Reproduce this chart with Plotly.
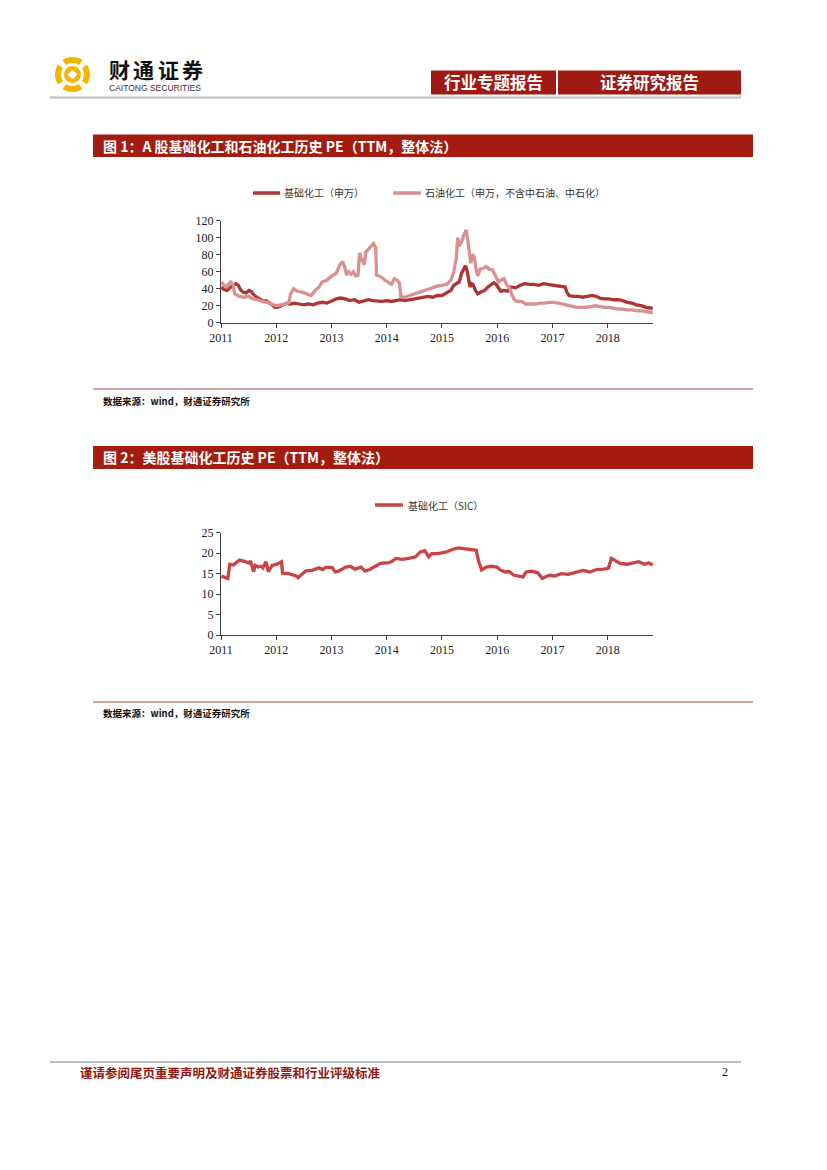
import plotly.graph_objects as go

W, H = 827, 1170

def X(px):
    return px / W

def Y(py):
    return 1 - py / H

# ---------------- data ----------------
year_ticks = ["2011-01-01", "2012-01-01", "2013-01-01", "2014-01-01", "2015-01-01",
              "2016-01-01", "2017-01-01", "2018-01-01"]
year_labels = ["2011", "2012", "2013", "2014", "2015", "2016", "2017", "2018"]

basic_name = "基础化工（申万）"
basic_dates = [
    "2011-01-04", "2011-01-20", "2011-02-10", "2011-03-01", "2011-03-20", "2011-04-10",
    "2011-04-25", "2011-05-10", "2011-05-25", "2011-06-15", "2011-07-05", "2011-07-20",
    "2011-08-05", "2011-08-25", "2011-09-15", "2011-10-10", "2011-10-25", "2011-11-15",
    "2011-12-05", "2011-12-25", "2012-01-10", "2012-02-01", "2012-02-20", "2012-03-10",
    "2012-04-01", "2012-05-01", "2012-06-01", "2012-07-01", "2012-08-01", "2012-09-01",
    "2012-10-01", "2012-11-01", "2012-12-01", "2013-01-01", "2013-02-01", "2013-03-01",
    "2013-04-01", "2013-05-01", "2013-06-01", "2013-07-01", "2013-08-01", "2013-09-01",
    "2013-10-01", "2013-11-01", "2013-12-01", "2014-01-01", "2014-02-01", "2014-03-01",
    "2014-04-01", "2014-05-01", "2014-06-01", "2014-07-01", "2014-08-01", "2014-09-01",
    "2014-10-01", "2014-11-01", "2014-12-01", "2015-01-01", "2015-02-01", "2015-03-01",
    "2015-03-20", "2015-04-10", "2015-04-25", "2015-05-10", "2015-06-05", "2015-06-15",
    "2015-06-25", "2015-07-05", "2015-07-15", "2015-07-25", "2015-08-10", "2015-08-25",
    "2015-09-15", "2015-10-10", "2015-11-01", "2015-11-20", "2015-12-10", "2015-12-25",
    "2016-01-10", "2016-01-25", "2016-02-15", "2016-03-10", "2016-04-01", "2016-05-01",
    "2016-06-01", "2016-07-01", "2016-08-01", "2016-09-01", "2016-10-01", "2016-11-01",
    "2016-12-01", "2017-01-01", "2017-02-01", "2017-03-01", "2017-03-25", "2017-04-05",
    "2017-04-20", "2017-05-20", "2017-06-20", "2017-07-20", "2017-08-20", "2017-09-20",
    "2017-10-15", "2017-11-10", "2017-12-10", "2018-01-10", "2018-02-10", "2018-03-10",
    "2018-04-10", "2018-05-10", "2018-06-10", "2018-07-10", "2018-08-10", "2018-09-10",
    "2018-10-25",
]
basic_pe = [
    42, 39, 38, 41, 44, 46,
    44, 39, 36, 35, 38, 37,
    33, 30, 28, 25, 26, 24,
    21, 18, 18, 20, 22, 23,
    22, 23, 22, 21, 22, 21,
    23, 24, 23, 26, 28, 29,
    28, 26, 27, 24, 26, 27,
    26, 25, 25, 26, 25, 26,
    27, 26, 27, 28, 29, 30,
    31, 30, 32, 32, 35, 38,
    44, 46, 48, 58, 67, 62,
    50, 42, 46, 45, 38, 34,
    36, 38, 42, 44, 47, 45,
    40, 37, 38, 37, 42, 41,
    44, 46, 45, 45, 44, 46,
    45, 44, 43, 43, 42, 36,
    32, 31, 31, 30, 31, 32,
    31, 29, 28, 28, 27, 27,
    26, 24, 23, 21, 20, 18,
    17,
]

petro_name = "石油化工（申万，不含中石油、中石化）"
petro_dates = [
    "2011-01-04", "2011-01-20", "2011-02-05", "2011-02-20", "2011-03-05", "2011-03-20",
    "2011-04-01", "2011-05-01", "2011-06-01", "2011-07-01", "2011-08-01", "2011-09-01",
    "2011-10-01", "2011-11-01", "2011-12-01", "2012-01-01", "2012-02-01", "2012-03-01",
    "2012-03-25", "2012-04-05", "2012-04-25", "2012-05-20", "2012-06-20", "2012-07-20",
    "2012-08-20", "2012-09-15", "2012-10-10", "2012-11-01", "2012-12-01", "2013-01-01",
    "2013-02-01", "2013-02-25", "2013-03-15", "2013-03-30", "2013-04-10", "2013-04-25",
    "2013-05-10", "2013-05-25", "2013-06-10", "2013-06-25", "2013-07-05", "2013-07-15",
    "2013-07-25", "2013-08-05", "2013-08-15", "2013-09-01", "2013-09-20", "2013-10-05",
    "2013-10-20", "2013-10-25", "2013-11-10", "2013-12-01", "2013-12-20", "2014-01-10",
    "2014-02-01", "2014-02-20", "2014-03-10", "2014-03-25", "2014-04-05", "2014-05-01",
    "2014-06-01", "2014-07-01", "2014-08-01", "2014-09-01", "2014-10-01", "2014-11-01",
    "2014-12-01", "2015-01-01", "2015-02-01", "2015-03-01", "2015-03-20", "2015-04-05",
    "2015-04-15", "2015-04-25", "2015-05-10", "2015-05-25", "2015-06-10", "2015-06-20",
    "2015-06-30", "2015-07-10", "2015-07-20", "2015-08-01", "2015-08-15", "2015-08-25",
    "2015-09-10", "2015-10-01", "2015-10-20", "2015-11-10", "2015-12-01", "2015-12-20",
    "2016-01-10", "2016-01-25", "2016-02-15", "2016-03-05", "2016-03-20", "2016-04-05",
    "2016-04-20", "2016-05-10", "2016-06-10", "2016-07-10", "2016-08-10", "2016-09-10",
    "2016-10-10", "2016-11-10", "2016-12-10", "2017-01-10", "2017-02-10", "2017-03-10",
    "2017-04-10", "2017-05-10", "2017-06-10", "2017-07-10", "2017-08-10", "2017-09-10",
    "2017-10-10", "2017-11-10", "2017-12-10", "2018-01-10", "2018-02-10", "2018-03-10",
    "2018-04-10", "2018-05-10", "2018-06-10", "2018-07-10", "2018-08-10", "2018-09-10",
    "2018-10-25",
]
petro_pe = [
    48, 44, 42, 46, 48, 46,
    34, 31, 30, 31, 28, 27,
    25, 24, 22, 20, 21, 22,
    24, 34, 40, 37, 36, 34,
    32, 38, 42, 48, 50, 55,
    58, 68, 72, 65, 56, 60,
    57, 60, 55, 56, 82, 76,
    73, 68, 83, 86, 90, 93,
    88, 56, 55, 53, 50, 47,
    45, 52, 50, 47, 30, 30,
    32, 33, 35, 37, 39, 41,
    43, 44, 45, 50, 60, 75,
    100, 90, 95, 103, 109, 98,
    80, 70, 80, 78, 62, 55,
    63, 64, 66, 63, 62, 55,
    48, 50, 52, 44, 42, 34,
    28, 25, 25, 22, 22, 22,
    23, 23, 24, 24, 23, 22,
    20, 19, 18, 18, 18, 19,
    20, 19, 18, 18, 17, 16,
    16, 15, 15, 14, 14, 13,
    12,
]

sic_name = "基础化工（SIC）"
sic_dates = [
    "2011-01-04", "2011-01-25", "2011-02-15", "2011-02-28", "2011-03-25", "2011-04-15",
    "2011-05-05", "2011-06-05", "2011-07-05", "2011-07-15", "2011-08-05", "2011-08-15",
    "2011-09-05", "2011-09-25", "2011-10-05", "2011-10-25", "2011-11-10", "2011-12-05",
    "2012-01-05", "2012-02-05", "2012-02-12", "2012-03-25", "2012-04-15", "2012-05-15",
    "2012-05-25", "2012-06-15", "2012-07-15", "2012-08-25", "2012-10-10", "2012-11-05",
    "2012-11-25", "2013-01-05", "2013-01-25", "2013-02-15", "2013-04-05", "2013-05-05",
    "2013-06-05", "2013-07-15", "2013-08-10", "2013-09-10", "2013-10-15", "2013-11-20",
    "2014-01-01", "2014-02-01", "2014-03-01", "2014-04-15", "2014-05-25", "2014-07-10",
    "2014-08-10", "2014-09-10", "2014-10-05", "2014-10-25", "2014-12-05", "2015-01-05",
    "2015-02-01", "2015-03-10", "2015-04-20", "2015-05-25", "2015-07-05", "2015-07-25",
    "2015-08-15", "2015-09-01", "2015-09-20", "2015-10-20", "2015-11-20", "2016-01-01",
    "2016-01-25", "2016-02-25", "2016-03-20", "2016-04-20", "2016-05-20", "2016-06-20",
    "2016-07-10", "2016-08-15", "2016-09-25", "2016-10-25", "2016-11-20", "2016-12-15",
    "2017-01-15", "2017-03-01", "2017-04-15", "2017-06-05", "2017-07-20", "2017-09-05",
    "2017-10-20", "2017-12-05", "2018-01-05", "2018-01-25", "2018-02-20", "2018-03-25",
    "2018-05-10", "2018-06-20", "2018-07-25", "2018-09-01", "2018-10-01", "2018-10-25",
]
sic_pe = [
    14.4, 14.1, 13.8, 17.3, 17.1, 17.8,
    18.3, 18.0, 17.6, 18.1, 15.5, 17.0,
    16.6, 16.8, 16.4, 17.9, 15.5, 17.0,
    17.3, 17.9, 15.1, 15.0, 14.8, 14.4,
    14.0, 14.6, 15.7, 15.8, 16.4, 16.0,
    16.6, 16.5, 15.4, 15.6, 16.6, 16.8,
    16.1, 16.6, 15.6, 16.0, 16.8, 17.5,
    17.6, 17.9, 18.7, 18.5, 18.7, 19.1,
    20.3, 20.6, 19.1, 19.9, 19.9, 20.1,
    20.3, 20.9, 21.3, 21.1, 20.9, 21.0,
    20.7, 17.9, 15.9, 16.6, 16.8, 16.6,
    15.8, 15.4, 15.5, 14.6, 14.4, 14.2,
    15.4, 15.6, 15.2, 13.8, 14.3, 14.6,
    14.4, 15.0, 14.8, 15.4, 15.8, 15.4,
    16.0, 16.1, 16.3, 18.7, 18.1, 17.5,
    17.3, 17.6, 17.9, 17.3, 17.6, 17.1,
]

x_range = ["2011-01-01", "2018-10-27"]

# ---------------- colours / fonts ----------------
C_DARK = "#AE3434"
C_LIGHT = "#D99090"
C_SIC = "#C94444"
C_BAR = "#A31C0F"
C_HDR = "#9E1A12"
GOLD = "#F2B600"
CJK = "Noto Sans CJK SC"
SERIF = "Liberation Serif"

fig = go.Figure()

fig.add_trace(go.Scatter(x=basic_dates, y=basic_pe, mode="lines", name=basic_name,
                         line=dict(color=C_DARK, width=3.3), xaxis="x", yaxis="y"))
fig.add_trace(go.Scatter(x=petro_dates, y=petro_pe, mode="lines", name=petro_name,
                         line=dict(color=C_LIGHT, width=3.3), xaxis="x", yaxis="y"))
fig.add_trace(go.Scatter(x=sic_dates, y=sic_pe, mode="lines", name=sic_name,
                         line=dict(color=C_SIC, width=3.3), xaxis="x2", yaxis="y2"))

axis_common = dict(showgrid=False, zeroline=False, showline=True, linecolor="#404040",
                   linewidth=1, ticks="outside", ticklen=4, tickcolor="#404040",
                   automargin=False,
                   tickfont=dict(family=SERIF, size=12, color="#222222"))

fig.update_layout(
    width=W, height=H,
    margin=dict(l=0, r=0, t=0, b=0, pad=0, autoexpand=False),
    paper_bgcolor="white", plot_bgcolor="white",
    showlegend=False,
    xaxis=dict(domain=[X(221), X(653)], anchor="y", type="date", range=x_range,
               tickvals=year_ticks, ticktext=year_labels, **axis_common),
    yaxis=dict(domain=[Y(322.7), Y(220.7)], anchor="x", range=[0, 120], dtick=20,
               **axis_common),
    xaxis2=dict(domain=[X(221), X(653)], anchor="y2", type="date", range=x_range,
                tickvals=year_ticks, ticktext=year_labels, **axis_common),
    yaxis2=dict(domain=[Y(635), Y(532.7)], anchor="x2", range=[0, 25], dtick=5,
                **axis_common),
)

shapes = []
annos = []

def rect(x0, y0, x1, y1, color):
    shapes.append(dict(type="rect", xref="paper", yref="paper", x0=X(x0), x1=X(x1),
                       y0=Y(y1), y1=Y(y0), fillcolor=color, line=dict(width=0), layer="below"))

def hline(x0, x1, y, color, width):
    shapes.append(dict(type="line", xref="paper", yref="paper", x0=X(x0), x1=X(x1),
                       y0=Y(y), y1=Y(y), line=dict(color=color, width=width)))

def text(x, y, s, size, color="#000000", family=CJK, xanchor="left", bold=False):
    if bold:
        s = "<b>" + s + "</b>"
    annos.append(dict(xref="paper", yref="paper", x=X(x), y=Y(y), text=s, showarrow=False,
                      xanchor=xanchor, yanchor="middle",
                      font=dict(family=family, size=size, color=color)))

def circle(cx, cy, r, color):
    shapes.append(dict(type="circle", xref="paper", yref="paper",
                       x0=X(cx - r), x1=X(cx + r), y0=Y(cy + r), y1=Y(cy - r),
                       fillcolor=color, line=dict(width=0)))

def poly(points, color):
    d = "M " + " L ".join(f"{X(px):.5f},{Y(py):.5f}" for px, py in points) + " Z"
    shapes.append(dict(type="path", xref="paper", yref="paper", path=d,
                       fillcolor=color, line=dict(width=0)))

# ---- header logo ----
cx, cy = 72.5, 74.5
circle(cx, cy, 17.5, GOLD)
circle(cx, cy, 11.5, "white")
g = 2.2
for sx, sy in [(1, 1), (1, -1), (-1, 1), (-1, -1)]:
    a = (cx + sx * 8.0, cy + sy * 8.0)
    b = (cx + sx * 14.0, cy + sy * 14.0)
    ox, oy = -sy * g * 0.7071, sx * g * 0.7071
    poly([(a[0] + ox, a[1] + oy), (b[0] + ox * 1.6, b[1] + oy * 1.6),
          (b[0] - ox * 1.6, b[1] - oy * 1.6), (a[0] - ox, a[1] - oy)], "white")
circle(cx, cy, 8.5, GOLD)
poly([(cx, cy - 4.8), (cx + 4.8, cy), (cx, cy + 4.8), (cx - 4.8, cy)], "white")

for i, ch in enumerate("财通证券"):
    text(119 + i * 24.5, 69, "<b>" + ch + "</b>", 21, "#111111", xanchor="center")
text(107, 88, "CAITONG SECURITIES", 8.5, "#333333", family="Liberation Sans")

hline(50, 741, 97.5, "#BDBDBD", 2)

rect(431, 70.5, 556, 94.5, C_HDR)
rect(558, 70.5, 741, 94.5, C_HDR)
text(493.5, 82.5, "行业专题报告", 16.5, "white", xanchor="center", bold=True)
text(649.5, 82.5, "证券研究报告", 16.5, "white", xanchor="center", bold=True)

# ---- figure 1 ----
rect(93, 134.5, 753, 157, C_BAR)
text(101, 146, "图 1：A 股基础化工和石油化工历史 PE（TTM，整体法）", 14, "white", bold=True)

hline(253, 280, 193, C_DARK, 3.5)
text(282, 193, basic_name, 10, "#333333")
hline(393, 421, 193, C_LIGHT, 3.5)
text(423, 193, petro_name, 10, "#333333")

hline(93, 753, 389, "#A8463C", 1)
text(101, 400.5, "数据来源：wind，财通证券研究所", 9.5, "#111111", bold=True)

# ---- figure 2 ----
rect(93, 446, 753, 469, C_BAR)
text(101, 457.5, "图 2：美股基础化工历史 PE（TTM，整体法）", 14, "white", bold=True)

hline(375, 403, 505, C_SIC, 3.5)
text(406, 505, sic_name, 10, "#333333")

hline(93, 753, 702, "#A8463C", 1)
text(101, 713, "数据来源：wind，财通证券研究所", 9.5, "#111111", bold=True)

# ---- footer ----
hline(50, 741, 1062, "#BDBDBD", 2)
text(78, 1072, "谨请参阅尾页重要声明及财通证券股票和行业评级标准", 12.5, "#8E1A10", bold=True)
text(725, 1072, "2", 12, "#111111", family=SERIF, xanchor="center")

fig.update_layout(shapes=shapes, annotations=annos)

fig.write_html("out.html",
               config={"displayModeBar": False},
               post_script="document.body.style.margin='0px';document.body.style.padding='0px';")
